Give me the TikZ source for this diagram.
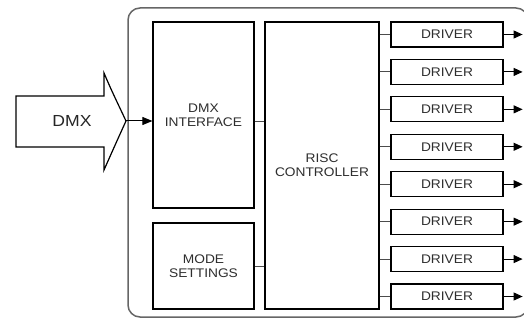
\documentclass[tikz,border=0pt]{standalone}
\usepackage{fontspec}
\setmainfont[FakeStretch=1.1]{Liberation Sans}
\usetikzlibrary{arrows.meta}
\begin{document}
\begin{tikzpicture}[x=1pt,y=-1pt,
  blk/.style={draw=black,line width=1.2pt,fill=white,align=center,inner sep=0pt,
    text=black!82,font=\fontsize{12.5}{14}\selectfont},
  drv/.style={blk,minimum width=112pt,minimum height=25pt},
  link/.style={draw=black!70,line width=0.9pt},
  outarrow/.style={draw=black,line width=1pt,-{Triangle[length=9pt,width=8pt]}}]
\clip (0,0) rectangle (524,320);
\useasboundingbox (0,0) rectangle (524,320);
\fill[white] (0,0) rectangle (524,320);
% outer frame
\draw[black!60,line width=1.5pt,rounded corners=12pt] (128,8) rectangle (528,317);
% big input arrow
\draw[black,line width=1.2pt,fill=white,line join=miter]
  (16,96) -- (104,96) -- (104,73) .. controls (112,92) and (120,108) .. (126,121)
  .. controls (120,134) and (112,152) .. (104,170) -- (104,147) -- (16,147) -- cycle;
\node[text=black!85,font=\fontsize{16}{18}\selectfont] (dmxtxt) at (72,121) {DMX};
\coordinate (tip) at (126,121);
% blocks
\node[blk,minimum width=101pt,minimum height=186pt] (dmxif) at (203.5,115) {DMX\\INTERFACE};
\node[blk,minimum width=101pt,minimum height=86pt] (mode) at (203.5,266) {MODE\\SETTINGS};
\node[blk,minimum width=114pt,minimum height=287pt] (risc) at (322,165.5) {RISC\\CONTROLLER};
\draw[black,line width=1pt,-{Triangle[length=10pt,width=8pt]}] (tip) -- (tip -| dmxif.west);
\draw[link] ([yshift=-6pt]dmxif.east) -- ([yshift=-6pt]dmxif.east -| risc.west);
\draw[link] (mode.east) -- (mode.east -| risc.west);
\foreach \i in {0,...,7}{
  \node[drv] (d\i) at (447,{34.5+37.43*\i}) {DRIVER};
  \draw[link] (d\i.west -| risc.east) -- (d\i.west);
  \coordinate (o\i) at ([xshift=19pt]d\i.east);
  \draw[outarrow] (d\i.east) -- (o\i);
}
\end{tikzpicture}
\end{document}
